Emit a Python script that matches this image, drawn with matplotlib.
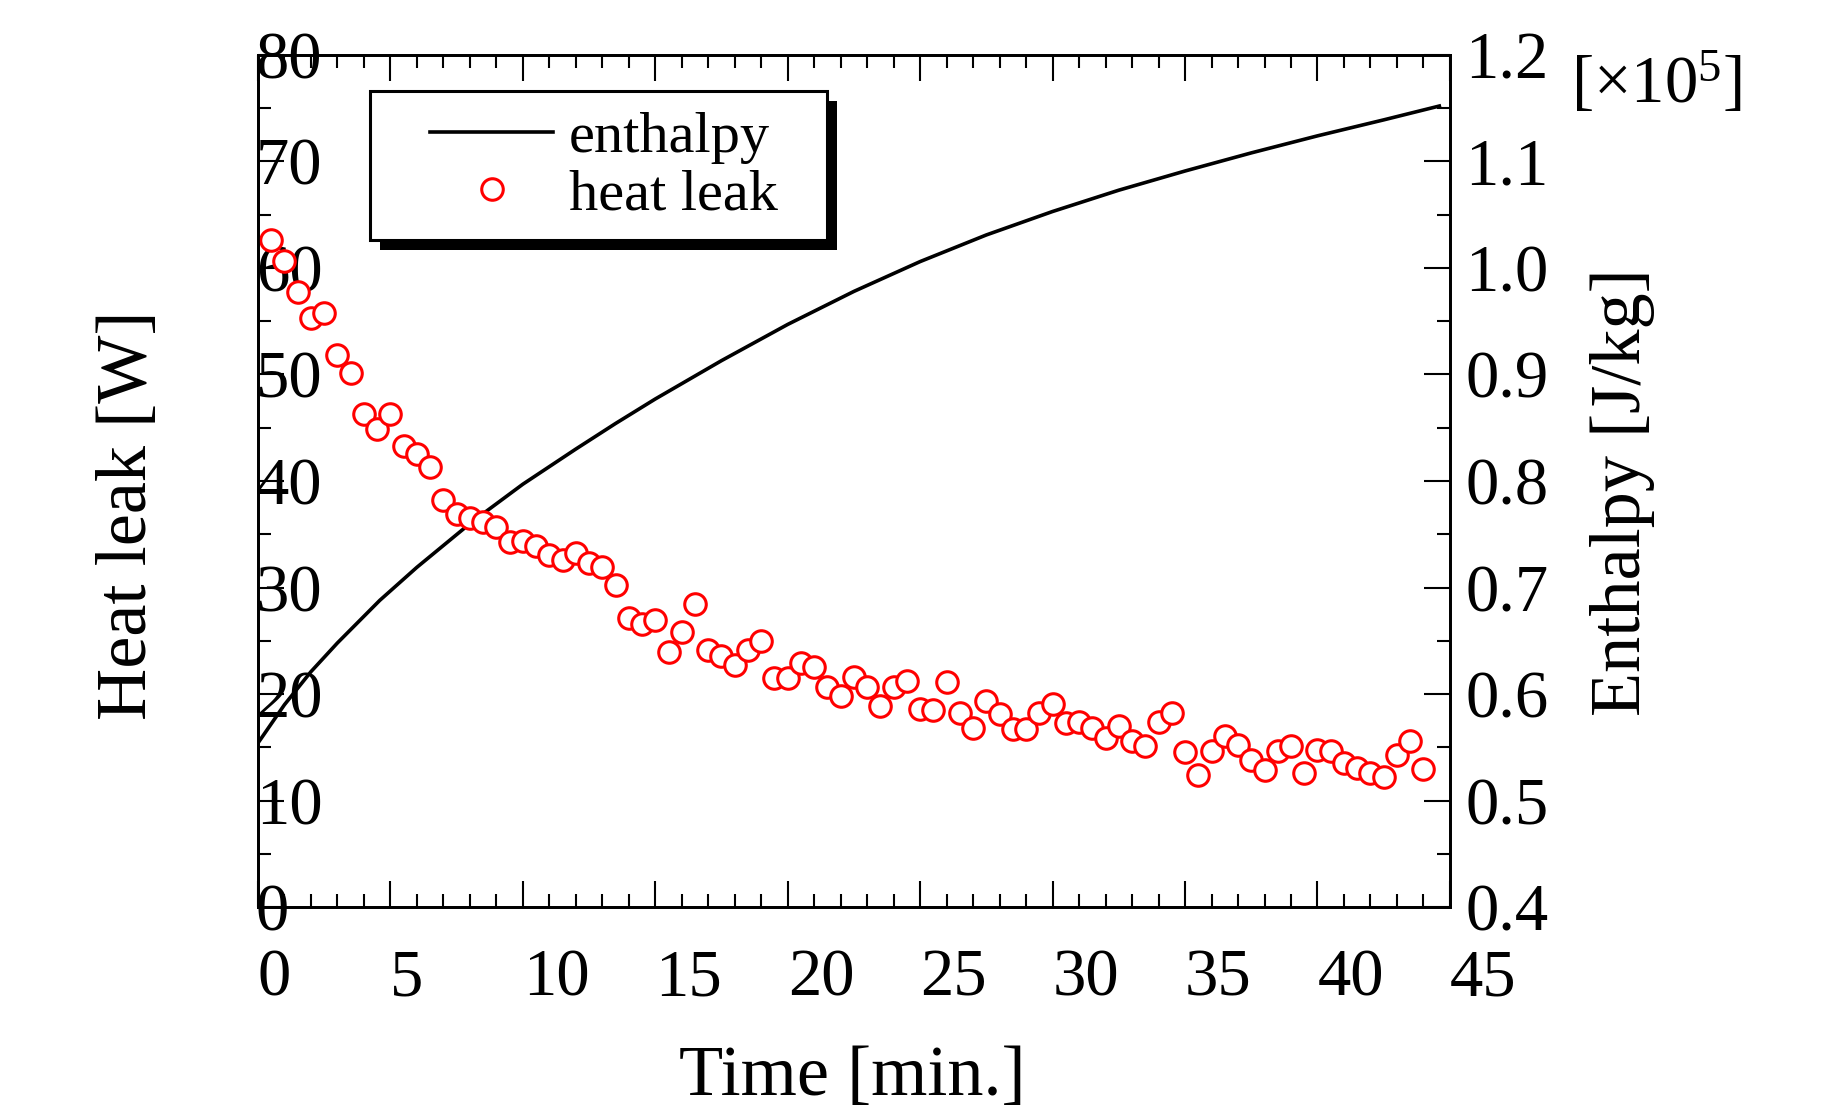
import matplotlib
matplotlib.use("Agg")
import matplotlib.pyplot as plt
from matplotlib.patches import Rectangle
from matplotlib.lines import Line2D
from matplotlib.ticker import MultipleLocator

plt.rcParams['font.family'] = ['Liberation Serif', 'DejaVu Serif']
plt.rcParams['mathtext.fontset'] = 'custom'
plt.rcParams['mathtext.rm'] = 'Liberation Serif'
plt.rcParams['mathtext.default'] = 'rm'

# heat leak samples [W]
time_min = [0.5, 1.0, 1.5, 2.0, 2.5, 3.0, 3.5, 4.0, 4.5, 5.0,
            5.5, 6.0, 6.5, 7.0, 7.5, 8.0, 8.5, 9.0, 9.5, 10.0,
            10.5, 11.0, 11.5, 12.0, 12.5, 13.0, 13.5, 14.0, 14.5, 15.0,
            15.5, 16.0, 16.5, 17.0, 17.5, 18.0, 18.5, 19.0, 19.5, 20.0,
            20.5, 21.0, 21.5, 22.0, 22.5, 23.0, 23.5, 24.0, 24.5, 25.0,
            25.5, 26.0, 26.5, 27.0, 27.5, 28.0, 28.5, 29.0, 29.5, 30.0,
            30.5, 31.0, 31.5, 32.0, 32.5, 33.0, 33.5, 34.0, 34.5, 35.0,
            35.5, 36.0, 36.5, 37.0, 37.5, 38.0, 38.5, 39.0, 39.5, 40.0,
            40.5, 41.0, 41.5, 42.0, 42.5, 43.0, 43.5, 44.0]
heat_leak = [62.6, 60.7, 57.7, 55.3, 55.8, 51.8, 50.1, 46.3, 44.9, 46.3,
             43.3, 42.5, 41.3, 38.2, 36.9, 36.5, 36.2, 35.7, 34.3, 34.4,
             33.9, 33.1, 32.6, 33.2, 32.3, 31.9, 30.2, 27.1, 26.6, 27.0,
             24.0, 25.8, 28.5, 24.1, 23.6, 22.7, 24.1, 25.0, 21.5, 21.5,
             22.9, 22.5, 20.7, 19.8, 21.6, 20.7, 18.9, 20.7, 21.2, 18.6,
             18.5, 21.1, 18.2, 16.8, 19.4, 18.1, 16.7, 16.7, 18.2, 19.1,
             17.3, 17.4, 16.8, 15.9, 17.0, 15.6, 15.1, 17.4, 18.2, 14.6,
             12.4, 14.7, 16.1, 15.2, 13.8, 12.9, 14.7, 15.1, 12.6, 14.8,
             14.7, 13.5, 13.1, 12.6, 12.2, 14.3, 15.6, 13.0]

# enthalpy [x1e5 J/kg]
enth_time = [0, 1, 2, 3, 4.6, 6, 8.1, 10, 12, 13.5, 15, 17.5, 20,
             22.5, 25, 27.5, 30, 32.5, 35, 37.5, 40, 42.5, 44.6]
enthalpy = [0.554, 0.590, 0.621, 0.648, 0.688, 0.719, 0.762, 0.797, 0.830,
            0.854, 0.877, 0.913, 0.947, 0.978, 1.006, 1.031, 1.053, 1.073,
            1.091, 1.108, 1.124, 1.139, 1.152]

fig = plt.figure(figsize=(18.37, 11.2), dpi=100)
ax = fig.add_axes([0.1404, 0.19, 0.6489, 0.761])
ax2 = ax.twinx()
ax.set_zorder(ax2.get_zorder() + 1)
ax.patch.set_visible(False)

ax2.plot(enth_time, enthalpy, color='black', lw=2.6)
ax.plot(time_min, heat_leak, 'o', ls='none', ms=15.5, mfc='white',
        mec='red', mew=2.2, clip_on=False)

ax.set_xlim(0, 45)
ax.set_ylim(0, 80)
ax2.set_ylim(0.4, 1.2)

ax.xaxis.set_major_locator(MultipleLocator(5))
ax.xaxis.set_minor_locator(MultipleLocator(1))
ax.yaxis.set_major_locator(MultipleLocator(10))
ax.yaxis.set_minor_locator(MultipleLocator(5))
ax2.yaxis.set_major_locator(MultipleLocator(0.1))
ax2.yaxis.set_minor_locator(MultipleLocator(0.05))

for a in (ax, ax2):
    for sp in a.spines.values():
        sp.set_linewidth(2.0)

ax.tick_params(axis='x', which='both', direction='in', top=True, bottom=True,
               width=1.5, labelsize=48, pad=30)
ax.tick_params(axis='x', which='major', length=19)
ax.tick_params(axis='x', which='minor', length=9.5)
ax.tick_params(axis='y', which='both', direction='in', left=True, right=False,
               width=1.5, labelsize=48, pad=1.5)
ax.tick_params(axis='y', which='major', length=19)
ax.tick_params(axis='y', which='minor', length=9.5)
ax2.tick_params(axis='y', which='both', direction='in', width=1.5,
                labelsize=48, pad=11)
ax2.tick_params(axis='y', which='major', length=19)
ax2.tick_params(axis='y', which='minor', length=9.5)

for lab in ax.get_xticklabels():
    lab.set_ha('left')
for lab in ax.get_yticklabels():
    lab.set_ha('left')
ax2.set_yticklabels([f"{v:.1f}" for v in ax2.get_yticks()])

fig.text(0.464, 0.038, 'Time [min.]', ha='center', va='center', fontsize=52)
fig.text(0.070, 0.540, 'Heat leak [W]', ha='center', va='center',
         rotation=90, fontsize=52)
fig.text(0.883, 0.561, 'Enthalpy [J/kg]', ha='center', va='center',
         rotation=90, fontsize=52)
fig.text(0.902, 0.925, r'[$\times10^{5}$]', ha='center', va='center',
         fontsize=48)

# legend box with a hard drop shadow
bx, by, bw, bh = 0.094, 0.783, 0.383, 0.175
ax.add_patch(Rectangle((bx + 0.0084, by - 0.0117), bw, bh, transform=ax.transAxes,
                       fc='black', ec='black', lw=0, zorder=3.9, clip_on=False))
ax.add_patch(Rectangle((bx, by), bw, bh, transform=ax.transAxes,
                       fc='white', ec='black', lw=2.2, zorder=4, clip_on=False))
handles = [Line2D([], [], color='black', lw=2.6),
           Line2D([], [], marker='o', ls='none', ms=15.5, mfc='white',
                  mec='red', mew=2.2)]
ax.legend(handles, ['enthalpy', 'heat leak'], loc='upper left',
          bbox_to_anchor=(0.12, 0.968), frameon=False, borderpad=0,
          handlelength=2.11, handletextpad=0.27, labelspacing=0.08,
          fontsize=42, numpoints=1)

fig.savefig('out.png', dpi=100)
